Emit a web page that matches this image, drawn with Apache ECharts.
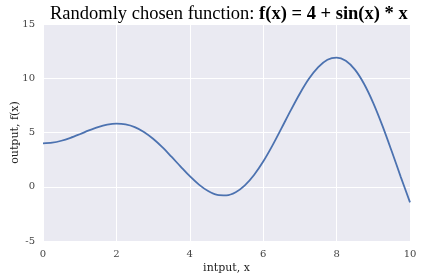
<!DOCTYPE html>
<html>
<head>
<meta charset="utf-8">
<style>
  html, body { margin: 0; padding: 0; background: #fff; }
  #chart { width: 422px; height: 280px; }
</style>
<script src="https://cdn.jsdelivr.net/npm/echarts@6/dist/echarts.min.js"></script>
</head>
<body>
<div id="chart"></div>
<script>
var xValues = [0, 0.25, 0.5, 0.75, 1, 1.25, 1.5, 1.75, 2, 2.25, 2.5, 2.75, 3, 3.25, 3.5, 3.75,
  4, 4.25, 4.5, 4.75, 5, 5.25, 5.5, 5.75, 6, 6.25, 6.5, 6.75, 7, 7.25, 7.5, 7.75,
  8, 8.25, 8.5, 8.75, 9, 9.25, 9.5, 9.75, 10];
var yValues = [4.0, 4.06, 4.24, 4.51, 4.84, 5.19, 5.50, 5.72, 5.82, 5.75, 5.50, 5.05, 4.42, 3.65, 2.77, 1.86,
  0.97, 0.20, -0.40, -0.75, -0.79, -0.51, 0.12, 1.08, 2.32, 3.79, 5.40, 7.04, 8.60, 9.97, 11.03, 11.71,
  11.91, 11.61, 10.79, 9.47, 7.71, 5.61, 3.29, 0.89, -1.44];
var xTicks = [0, 2, 4, 6, 8, 10];
var yTicks = [-5, 0, 5, 10, 15];

var serifFont = '"DejaVu Serif", "Liberation Serif", serif';

var chart = echarts.init(document.getElementById('chart'));

var points = [];
for (var i = 0; i < xValues.length; i++) {
  points.push([xValues[i], yValues[i]]);
}

var option = {
  animation: false,
  backgroundColor: '#ffffff',
  title: {
    text: '{a|Randomly chosen function: }{b|f(x) = 4 + sin(x) * x}',
    left: 45,
    top: 0,
    textStyle: {
      fontWeight: 'normal',
      rich: {
        a: { fontFamily: '"Liberation Serif", serif', fontSize: 18.5, fontWeight: 'normal', color: '#000' },
        b: { fontFamily: '"Liberation Serif", serif', fontSize: 18.5, fontWeight: 'bold', color: '#000' }
      }
    }
  },
  grid: {
    left: 43,
    right: 12,
    top: 24,
    bottom: 39,
    outerBoundsMode: 'none',
    containLabel: false,
    show: true,
    backgroundColor: '#EAEAF2',
    borderWidth: 0
  },
  xAxis: {
    type: 'value',
    min: xTicks[0],
    max: xTicks[xTicks.length - 1],
    interval: 2,
    name: 'intput, x',
    nameLocation: 'middle',
    nameGap: 22,
    nameMoveOverlap: false,
    nameTextStyle: { fontFamily: serifFont, fontSize: 11, color: '#222' },
    axisLine: { show: false },
    axisTick: { show: false },
    axisLabel: { fontFamily: serifFont, fontSize: 10, color: '#444', margin: 8 },
    splitLine: { show: true, lineStyle: { color: '#ffffff', width: 1 } }
  },
  yAxis: {
    type: 'value',
    min: yTicks[0],
    max: yTicks[yTicks.length - 1],
    interval: 5,
    name: 'output, f(x)',
    nameLocation: 'middle',
    nameGap: 22,
    nameMoveOverlap: false,
    nameTextStyle: { fontFamily: serifFont, fontSize: 11, color: '#222' },
    axisLine: { show: false },
    axisTick: { show: false },
    axisLabel: { fontFamily: serifFont, fontSize: 10, color: '#444', margin: 8 },
    splitLine: { show: true, lineStyle: { color: '#ffffff', width: 1 } }
  },
  series: [{
    type: 'line',
    data: points,
    smooth: 0.3,
    showSymbol: false,
    lineStyle: { color: '#4C72B0', width: 1.8 }
  }]
};

chart.setOption(option);
</script>
</body>
</html>
